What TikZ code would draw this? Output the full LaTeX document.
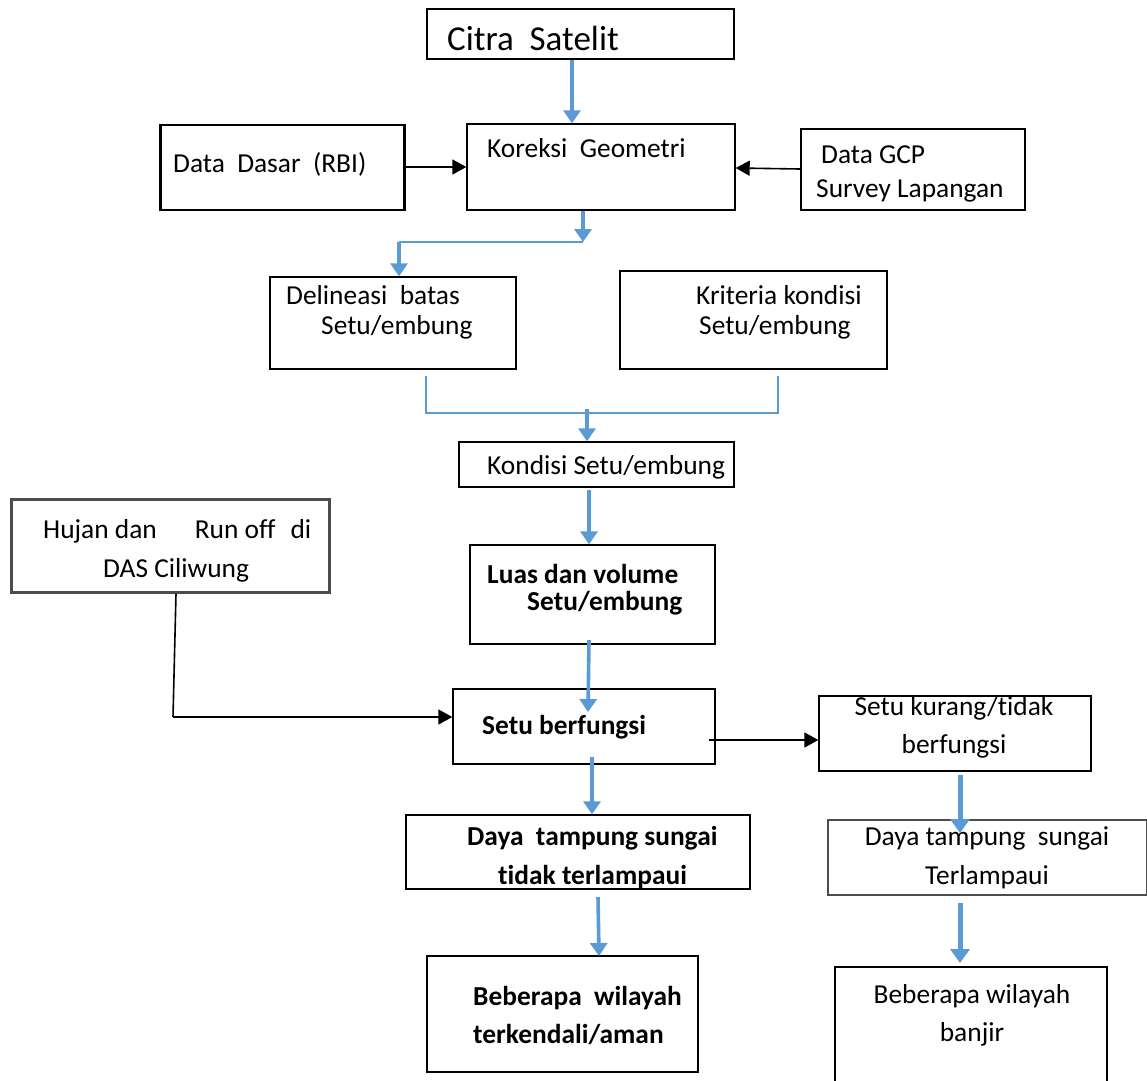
\documentclass[tikz,border=0pt]{standalone}
\usepackage{fontspec}
\setmainfont{Carlito}[Ligatures=NoCommon]
\usetikzlibrary{arrows.meta}
\definecolor{ablue}{RGB}{91,155,213}
\begin{document}
\begin{tikzpicture}[x=1pt,y=-1pt,
  box/.style={draw=black,line width=1.4pt,rectangle,inner sep=0pt},
  thickbox/.style={box,line width=2.8pt},
  greybox/.style={box,draw=black!70,line width=2.6pt},
  txt/.style={anchor=base west,inner sep=0pt,font=\fontsize{27.4}{32}\selectfont},
  ctxt/.style={anchor=base,inner sep=0pt,font=\fontsize{27.4}{32}\selectfont},
  btxt/.style={txt,font=\fontsize{27.4}{32}\selectfont\bfseries},
  barrow/.style={draw=ablue,line width=3.6pt,-{Triangle[length=13pt,width=17pt]}},
  bigarrow/.style={draw=ablue,line width=5pt,-{Triangle[length=14pt,width=19pt]}},
  bthin/.style={draw=ablue,line width=1.3pt},
  karrow/.style={draw=black,line width=1.6pt,-{Triangle[length=14pt,width=15pt]}},
  kline/.style={draw=black,line width=1.6pt}]
\useasboundingbox[fill=white] (0,0) rectangle (1147,1080);
% boxes
\node[thickbox,minimum width=307pt,minimum height=50pt] (citra) at (580.5,34) {};
\node[box,minimum width=268pt,minimum height=86pt] (koreksi) at (601,167) {};
\node[thickbox,minimum width=244pt,minimum height=85pt] (dasar) at (282.5,167.5) {};
\node[box,minimum width=224pt,minimum height=81pt] (gcp) at (913,169.5) {};
\node[box,minimum width=246pt,minimum height=92pt] (delin) at (393,323) {};
\node[box,minimum width=267pt,minimum height=98pt] (krit) at (753.5,320) {};
\node[box,minimum width=275pt,minimum height=45pt] (kondisi) at (596.5,464.5) {};
\node[box,minimum width=245pt,minimum height=99pt] (luas) at (592.5,594.5) {};
\node[greybox,minimum width=318pt,minimum height=93pt] (hujan) at (170.5,546) {};
\node[box,minimum width=262pt,minimum height=75pt] (fung) at (584,726.5) {};
\node[box,minimum width=272pt,minimum height=75pt] (kurang) at (955,733.5) {};
\node[box,minimum width=344pt,minimum height=74pt] (tidak) at (578,852) {};
\node[box,minimum width=271pt,minimum height=116pt] (aman) at (562.5,1014) {};
\node[greybox,line width=2pt,minimum width=319pt,minimum height=75pt] (terl) at (987.5,857.5) {};
\node[box,minimum width=272pt,minimum height=124pt] (banjir) at (971,1029) {};
% texts
\node[txt,font=\fontsize{35}{40}\selectfont] (tcitra) at (447,50) {Citra~ Satelit};
\node[txt] (tkor) at (487,157) {Koreksi~ Geometri};
\node[txt] (tdasar) at (173,172) {Data~ Dasar~ (RBI)};
\node[txt] (tgcp1) at (821,163) {Data GCP};
\node[txt] (tgcp2) at (816,197) {Survey Lapangan};
\node[txt] (tdel1) at (286,304) {Delineasi~ batas};
\node[txt] (tdel2) at (321,334) {Setu/embung};
\node[txt] (tkri1) at (696,304) {Kriteria kondisi};
\node[txt] (tkri2) at (699,334) {Setu/embung};
\node[txt] (tkon) at (487,474) {Kondisi Setu/embung};
\node[txt] (thuj1) at (43,538) {Hujan dan\hspace{38pt}Run off\hspace{15pt}di};
\node[txt] (thuj2) at (103,577) {DAS Ciliwung};
\node[btxt] (tluas1) at (487,583) {Luas dan volume};
\node[btxt] (tluas2) at (527,610) {Setu/embung};
\node[btxt] (tfung) at (482,734) {Setu berfungsi};
\node[ctxt] (tkur1) at (954,715) {Setu kurang/tidak};
\node[ctxt] (tkur2) at (954,753) {berfungsi};
\node[btxt] (ttid1) at (467,845) {Daya~ tampung sungai};
\node[btxt] (ttid2) at (498,884) {tidak terlampaui};
\node[btxt] (tam1) at (473,1005) {Beberapa~ wilayah};
\node[btxt] (tam2) at (473,1043) {terkendali/aman};
\node[ctxt] (tter1) at (987,845) {Daya tampung~ sungai};
\node[ctxt] (tter2) at (987,884) {Terlampaui};
\node[ctxt] (tban1) at (972,1003) {Beberapa wilayah};
\node[ctxt] (tban2) at (972,1041) {banjir};
% connectors
\draw[barrow] (572,0 |- citra.south) -- (572,0 |- koreksi.north);
\draw[karrow] (dasar.east |- 0,167) -- (koreksi.west |- 0,167);
\draw[karrow] (gcp.west |- 0,169) -- (koreksi.east |- 0,168);
\coordinate (s1) at (583,242);
\coordinate (s2) at (399,242);
\draw[bthin] (s2) -- (s1);
\draw[barrow] (583,0 |- koreksi.south) -- (s1);
\draw[barrow] (s2) -- (399,0 |- delin.north);
\coordinate (m1) at (426,376);
\coordinate (m2) at (426,413);
\coordinate (m3) at (778,413);
\coordinate (m4) at (778,376);
\draw[bthin] (m1) -- (m2) -- (m3) -- (m4);
\draw[barrow] (587,409) -- (587,0 |- kondisi.north);
\draw[barrow] (589,490) -- (589,0 |- luas.north);
\draw[barrow] (589,640) -- (588,712);
\coordinate (h1) at (173,717);
\draw[kline] (176,0 |- hujan.south) -- (h1);
\draw[karrow] (h1) -- (fung.west |- h1);
\draw[karrow] (709,740) -- (kurang.west |- 0,740);
\draw[barrow] (592,757) -- (592,0 |- tidak.north);
\draw[barrow] (598,897) -- (599,956);
\draw[bigarrow] (960,775) -- (960,833);
\draw[bigarrow] (960,903) -- (960,963);
\end{tikzpicture}
\end{document}
